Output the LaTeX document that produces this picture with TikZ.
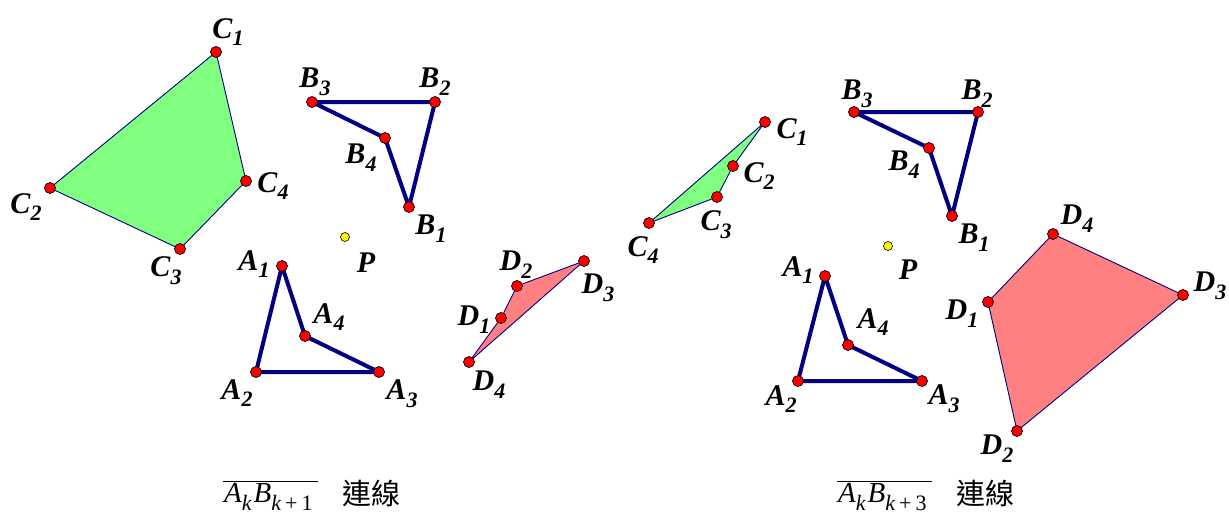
\documentclass[tikz,border=0pt]{standalone}
\usepackage{fontspec}
\setmainfont{Liberation Serif}
\newfontfamily\cjkfont{Noto Sans CJK TC}
\definecolor{navyline}{HTML}{000080}
\definecolor{greenfill}{HTML}{80FF80}
\definecolor{redfill}{HTML}{FF8080}
\newcommand{\ptsub}[1]{\raisebox{-0.26em}{\fontsize{22}{22}\selectfont #1}}
\newcommand{\capsub}[1]{\raisebox{-0.3em}{\fontsize{22}{22}\selectfont #1}}
\begin{document}
\begin{tikzpicture}[x=1pt,y=-1pt,
  frame/.style={draw=navyline,line width=4pt,line join=round,line cap=round},
  greenpoly/.style={fill=greenfill,draw=navyline,line width=0.9pt,line join=round},
  redpoly/.style={fill=redfill,draw=navyline,line width=0.9pt,line join=round},
  dot/.style={circle,fill=red,draw=black,line width=0.7pt,minimum size=11pt,inner sep=0pt},
  pdot/.style={circle,fill=yellow,draw=black,line width=0.6pt,minimum size=9pt,inner sep=0pt},
  lab/.style={font=\fontsize{30}{32}\selectfont\bfseries\itshape,inner sep=0pt},
  captext/.style={anchor=base west,inner sep=0pt,font=\fontsize{29}{32}\selectfont},
  cjktext/.style={anchor=base west,inner sep=0pt,font=\fontsize{29}{32}\selectfont\cjkfont}]
\useasboundingbox (0,0) rectangle (1229,512);
% ---------- left panel ----------
\coordinate (lC1) at (216,52);  \coordinate (lC2) at (50,188);
\coordinate (lC3) at (180,249); \coordinate (lC4) at (246,181);
\coordinate (lB1) at (409,207); \coordinate (lB2) at (435,102);
\coordinate (lB3) at (312,102); \coordinate (lB4) at (385,138);
\coordinate (lA1) at (282,266); \coordinate (lA2) at (256,372);
\coordinate (lA3) at (379,372); \coordinate (lA4) at (305,336);
\coordinate (lD1) at (501,318); \coordinate (lD2) at (517,286);
\coordinate (lD3) at (584,261); \coordinate (lD4) at (469,362);
\coordinate (lP) at (345,237);
% ---------- right panel ----------
\coordinate (rC1) at (765,122); \coordinate (rC2) at (733,166);
\coordinate (rC3) at (717,197); \coordinate (rC4) at (649,223);
\coordinate (rB1) at (952,216); \coordinate (rB2) at (978,112);
\coordinate (rB3) at (854,112); \coordinate (rB4) at (929,148);
\coordinate (rA1) at (825,276); \coordinate (rA2) at (798,381);
\coordinate (rA3) at (922,381); \coordinate (rA4) at (848,345);
\coordinate (rD1) at (988,302); \coordinate (rD2) at (1017,431);
\coordinate (rD3) at (1183,295); \coordinate (rD4) at (1053,234);
\coordinate (rP) at (888,246);
% polygons
\foreach \s in {l,r}{
  \draw[greenpoly] (\s C1) -- (\s C2) -- (\s C3) -- (\s C4) -- cycle;
  \draw[redpoly] (\s D1) -- (\s D2) -- (\s D3) -- (\s D4) -- cycle;
  \draw[frame] (\s A1) -- (\s A2) -- (\s A3) -- (\s A4) -- cycle;
  \draw[frame] (\s B1) -- (\s B2) -- (\s B3) -- (\s B4) -- cycle;
}
% points
\foreach \s in {l,r}{
  \foreach \p in {A1,A2,A3,A4,B1,B2,B3,B4,C1,C2,C3,C4,D1,D2,D3,D4}
    \node[dot] (d\s\p) at (\s\p) {};
  \node[pdot] (d\s P) at (\s P) {};
}
% labels
\foreach \n/\L/\k/\x/\y in {
  lC1/C/1/228/32, lC2/C/2/26/207, lC3/C/3/166/271, lC4/C/4/273/186,
  lB1/B/1/431/229, lB2/B/2/435/82, lB3/B/3/315/82, lB4/B/4/361/158,
  lA1/A/1/254/264, lA2/A/2/237/393, lA3/A/3/402/394, lA4/A/4/329/317,
  lD1/D/1/474/320, lD2/D/2/516/265, lD3/D/3/598/288, lD4/D/4/489/385,
  rC1/C/1/792/132, rC2/C/2/759/176, rC3/C/3/716/225, rC4/C/4/643/250,
  rB1/B/1/974/238, rB2/B/2/977/94, rB3/B/3/857/94, rB4/B/4/904/165,
  rA1/A/1/798/270, rA2/A/2/781/399, rA3/A/3/944/399, rA4/A/4/873/322,
  rD1/D/1/962/314, rD2/D/2/997/449, rD3/D/3/1210/286, rD4/D/4/1077/219}
  \node[lab] (t\n) at (\x,\y) {\L\ptsub{\k}};
\node[lab] (tlP) at (366,263) {P};
\node[lab] (trP) at (908,270) {P};
% captions
\node[captext] (capL) at (223,502)
  {$\overline{\hbox{\kern1pt\itshape A\capsub{k}\kern2pt B\capsub{k\kern4pt\upshape+\kern4pt1}\kern5pt}}$};
\node[cjktext] (capLt) at (342,504) {連線};
\node[captext] (capR) at (837,502)
  {$\overline{\hbox{\kern1pt\itshape A\capsub{k}\kern2pt B\capsub{k\kern4pt\upshape+\kern4pt3}\kern5pt}}$};
\node[cjktext] (capRt) at (956,504) {連線};
\end{tikzpicture}
\end{document}
